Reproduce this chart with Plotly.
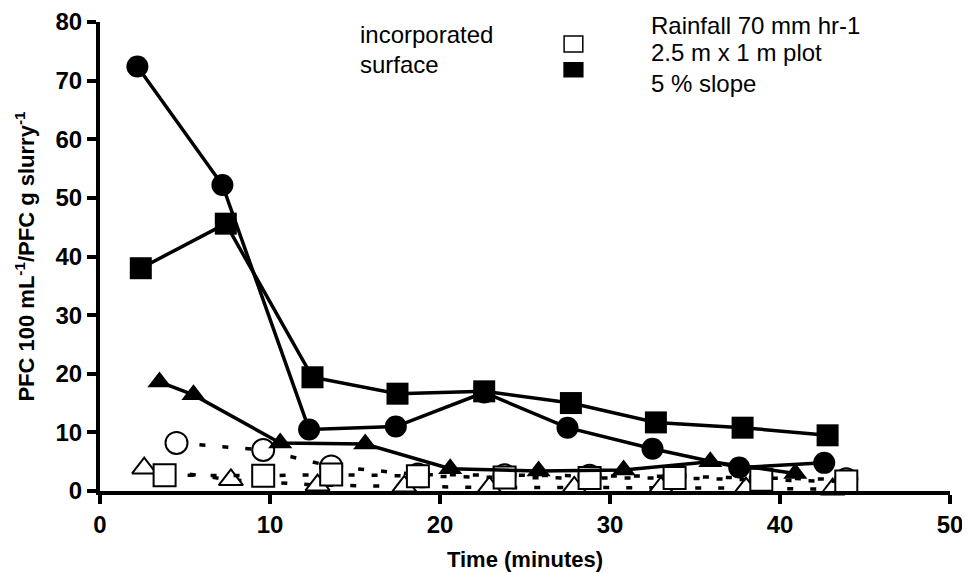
import plotly.graph_objects as go

# Surface application (filled markers, solid lines)
surf_circle_x = [2.2, 7.2, 12.3, 17.4, 22.6, 27.5, 32.5, 37.6, 42.6]
surf_circle_y = [72.4, 52.2, 10.5, 11.0, 16.8, 10.8, 7.2, 4.0, 4.8]
surf_square_x = [2.4, 7.4, 12.5, 17.5, 22.6, 27.7, 32.7, 37.8, 42.8]
surf_square_y = [38.0, 45.6, 19.4, 16.6, 17.0, 15.0, 11.7, 10.8, 9.5]
surf_tri_x = [3.5, 5.5, 10.6, 15.6, 20.6, 25.8, 30.8, 35.9, 40.9]
surf_tri_y = [18.6, 16.4, 8.2, 8.0, 3.8, 3.4, 3.6, 5.0, 3.0]

# Incorporated (open markers, dashed lines)
inc_circle_x = [4.5, 9.6, 13.6, 18.7, 23.8, 28.8, 33.8, 38.9, 43.9]
inc_circle_y = [8.2, 7.0, 4.2, 2.8, 2.7, 2.6, 2.5, 2.2, 2.0]
inc_square_x = [3.8, 9.6, 13.6, 18.7, 23.8, 28.8, 33.8, 38.9, 43.9]
inc_square_y = [2.7, 2.6, 2.8, 2.5, 2.3, 2.2, 2.2, 1.9, 1.6]
inc_tri_x = [2.6, 7.7, 12.8, 17.9, 22.9, 27.9, 33.0, 38.0, 43.1]
inc_tri_y = [3.9, 1.9, 1.0, 0.8, 0.6, 0.6, 0.6, 0.5, 0.3]

x_ticks = [0, 10, 20, 30, 40, 50]
y_ticks = [0, 10, 20, 30, 40, 50, 60, 70, 80]

legend_left = ["incorporated", "surface"]
legend_right = ["Rainfall 70 mm hr-1", "2.5 m x 1 m plot", "5 % slope"]

FONT = "Liberation Sans, Arial, sans-serif"
DASH = "6px,17px"

fig = go.Figure()

def add(x, y, symbol, filled, dash):
    size = {"circle": 22, "square": 22, "triangle-up": 21}[symbol]
    fig.add_trace(go.Scatter(
        x=x, y=y, mode="lines+markers",
        line=dict(color="black", width=3.5, dash=dash),
        marker=dict(symbol=symbol, size=size,
                    color="black" if filled else "white",
                    line=dict(color="black", width=0 if filled else 2)),
        showlegend=False, cliponaxis=False))

add(inc_tri_x, inc_tri_y, "triangle-up", False, DASH)
add(inc_circle_x, inc_circle_y, "circle", False, DASH)
add(inc_square_x, inc_square_y, "square", False, DASH)
add(surf_tri_x, surf_tri_y, "triangle-up", True, "solid")
add(surf_circle_x, surf_circle_y, "circle", True, "solid")
add(surf_square_x, surf_square_y, "square", True, "solid")

tickfont = dict(family=FONT, size=24, color="black", weight=700)
titlefont = dict(family=FONT, size=22, color="black", weight=700)

fig.update_xaxes(range=[0, 50], tickvals=x_ticks, ticktext=[f"<b>{v}</b>" for v in x_ticks],
                 showline=True, linecolor="black", automargin=False,
                 linewidth=4, ticks="outside", ticklen=9, tickwidth=4, tickcolor="black",
                 showgrid=False, zeroline=False, tickfont=tickfont,
                 title=dict(text="<b>Time (minutes)</b>", standoff=16, font=titlefont))
fig.update_yaxes(range=[0, 80], tickvals=y_ticks, ticktext=[f"<b>{v}</b>" for v in y_ticks],
                 showline=True, linecolor="black", automargin=False,
                 linewidth=4, ticks="outside", ticklen=9, tickwidth=4, tickcolor="black",
                 showgrid=False, zeroline=False, tickfont=tickfont,
                 title=dict(text="<b>PFC 100 mL<sup>-1</sup>/PFC g slurry<sup>-1</sup></b>",
                            standoff=16, font=titlefont))

# Legend-like annotations
ann_font = dict(family=FONT, size=24, color="black")
for text, yp in zip(legend_left, [0.974, 0.910]):
    fig.add_annotation(x=0.303, y=yp, xref="paper", yref="paper", xanchor="left",
                       yanchor="middle", text=text, showarrow=False, font=ann_font)
for text, yp in zip(legend_right, [0.993, 0.934, 0.868]):
    fig.add_annotation(x=0.646, y=yp, xref="paper", yref="paper", xanchor="left",
                       yanchor="middle", text=text, showarrow=False, font=ann_font)
fig.add_shape(type="rect", xref="paper", yref="paper", x0=0.5460, x1=0.5680, y0=0.9360, y1=0.9700,
              line=dict(color="black", width=1.5), fillcolor="white")
fig.add_shape(type="rect", xref="paper", yref="paper", x0=0.5460, x1=0.5680, y0=0.8830, y1=0.9130,
              line=dict(color="black", width=1.5), fillcolor="black")

fig.update_layout(width=970, height=573, margin=dict(l=92, r=28, t=14, b=90),
                  plot_bgcolor="white", paper_bgcolor="white",
                  font=dict(family=FONT, color="black"))

fig.write_html("out.html")
